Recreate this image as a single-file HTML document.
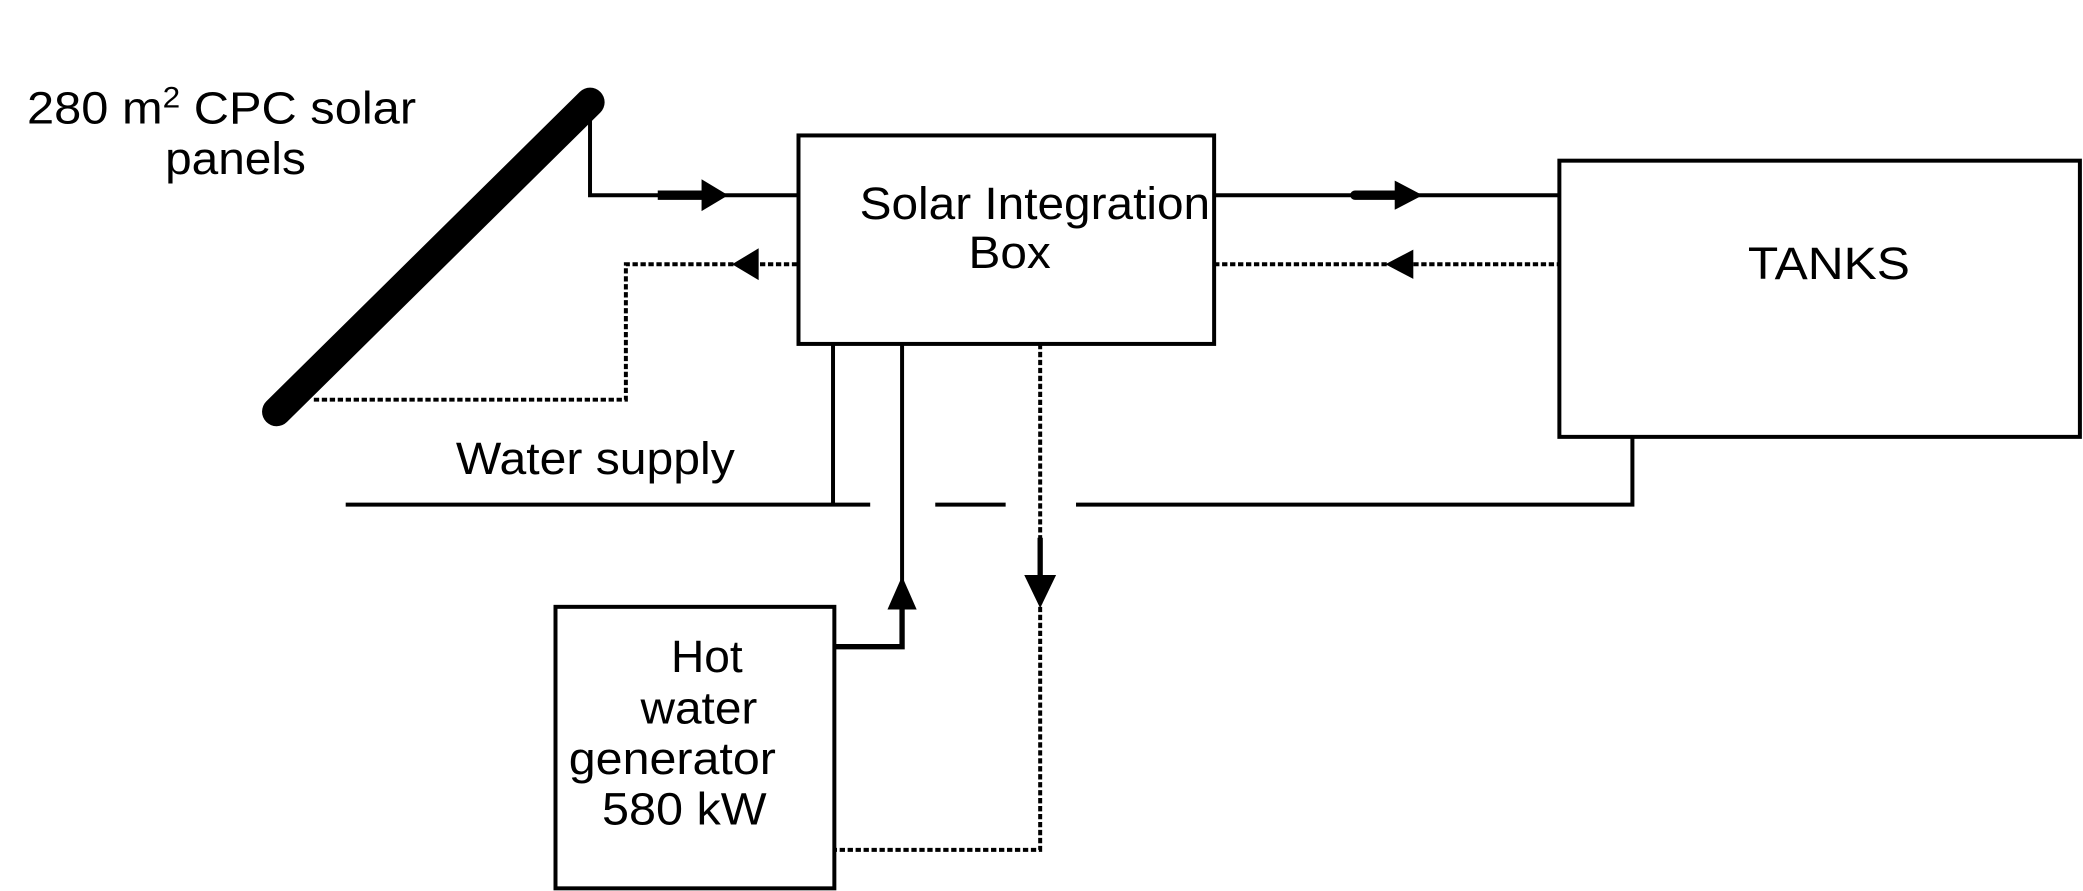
<!DOCTYPE html>
<html><head><meta charset="utf-8"><style>html,body{margin:0;padding:0;background:#fff}svg{display:block}</style></head>
<body>
<svg width="2083" height="891" viewBox="0 0 1568 671" xmlns="http://www.w3.org/2000/svg" font-family="Liberation Sans, sans-serif" fill="#000">
<g stroke="#000" fill="none" stroke-width="3">
<line x1="208" y1="310" x2="444" y2="77" stroke-width="22" stroke-linecap="round"/>
<polyline points="444,80 444,147 600,147"/>
<line x1="495" y1="147" x2="530" y2="147" stroke-width="7"/>
<rect x="601" y="102" width="313" height="157"/>
<polyline points="914,147 1173,147"/>
<line x1="1020" y1="147" x2="1055" y2="147" stroke-width="7" stroke-linecap="round"/>
<rect x="1174" y="121" width="392" height="208"/>
<rect x="418" y="457" width="210" height="212"/>
<g stroke-dasharray="4,2">
<polyline points="600,199 471,199 471,301 235,301"/>
<line x1="914" y1="199" x2="1173" y2="199"/>
<polyline points="783,259 783,640 628,640"/>
</g>
<line x1="627" y1="259" x2="627" y2="380"/>
<polyline points="679,259 679,450"/>
<polyline points="628,487 679,487 679,455" stroke-width="4"/>
<line x1="783" y1="405" x2="783" y2="440" stroke-width="4"/>
<line x1="260" y1="380" x2="655" y2="380"/>
<line x1="704" y1="380" x2="757" y2="380"/>
<polyline points="810,380 1229,380 1229,329"/>
</g>
<polygon points="548,147 528,135 528,159"/>
<polygon points="1071,147 1050,136 1050,158"/>
<polygon points="551,199 571,187 571,211"/>
<polygon points="1043,199 1064,188 1064,210"/>
<polygon points="679,434 668,459 690,459"/>
<polygon points="783,458 771,433 795,433"/>
<g font-size="34">
<text x="20" y="93" textLength="293" lengthAdjust="spacingAndGlyphs">280 m<tspan font-size="22" dy="-12">2</tspan><tspan dy="12"> CPC solar</tspan></text>
<text x="124" y="131" textLength="106" lengthAdjust="spacingAndGlyphs">panels</text>
<text x="647" y="165" textLength="264" lengthAdjust="spacingAndGlyphs">Solar Integration</text>
<text x="729" y="202" textLength="62" lengthAdjust="spacingAndGlyphs">Box</text>
<text x="1316" y="210" textLength="122" lengthAdjust="spacingAndGlyphs">TANKS</text>
<text x="343" y="357" textLength="210" lengthAdjust="spacingAndGlyphs">Water supply</text>
<text x="505" y="506" textLength="54" lengthAdjust="spacingAndGlyphs">Hot</text>
<text x="482" y="545" textLength="88" lengthAdjust="spacingAndGlyphs">water</text>
<text x="428" y="583" textLength="156" lengthAdjust="spacingAndGlyphs">generator</text>
<text x="453" y="621" textLength="124" lengthAdjust="spacingAndGlyphs">580 kW</text>
</g>
</svg>
</body></html>
